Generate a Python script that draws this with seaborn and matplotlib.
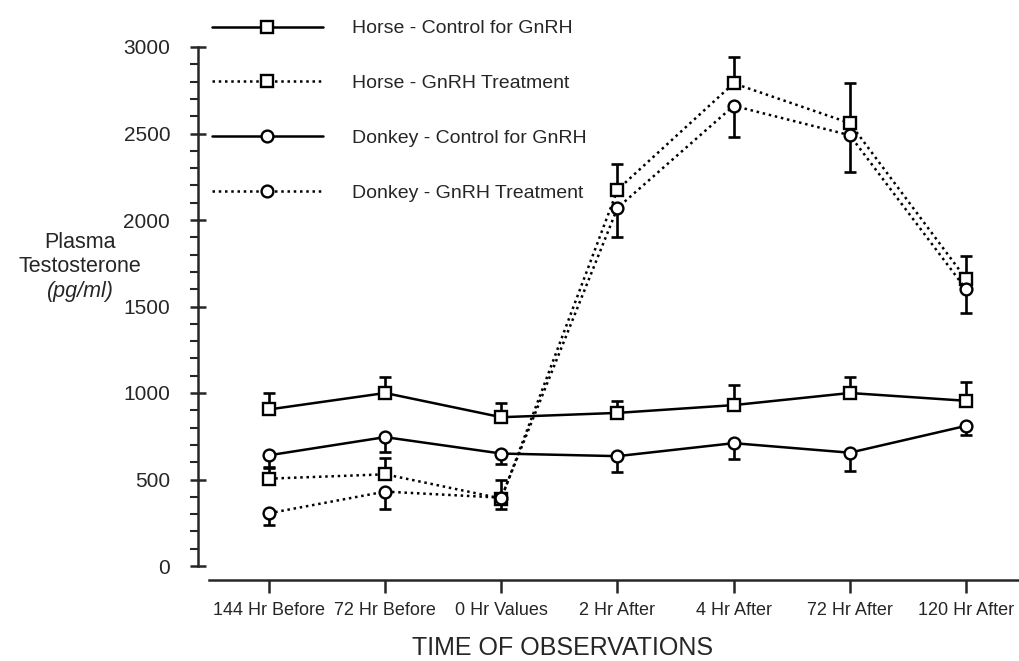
import matplotlib
matplotlib.use("Agg")  # headless
import matplotlib.pyplot as plt
import seaborn as sns
import numpy as np

times = ["144 Hr Before", "72 Hr Before", "0 Hr Values", "2 Hr After",
         "4 Hr After", "72 Hr After", "120 Hr After"]

horse_ctrl = [905, 1000, 860, 885, 930, 1000, 955]
horse_ctrl_err = [95, 95, 80, 70, 115, 95, 110]
horse_gnrh = [505, 530, 390, 2175, 2790, 2560, 1660]
horse_gnrh_err = [60, 95, 110, 150, 150, 230, 130]
donkey_ctrl = [640, 745, 650, 635, 710, 655, 810]
donkey_ctrl_err = [70, 85, 60, 90, 90, 105, 55]
donkey_gnrh = [305, 430, 395, 2070, 2660, 2490, 1600]
donkey_gnrh_err = [70, 100, 65, 170, 180, 210, 135]

sns.set_style("ticks")
plt.rcParams["font.family"] = ["Liberation Sans", "DejaVu Sans"]

W, H = 1019, 661
fig = plt.figure(figsize=(W / 100, H / 100), dpi=100)
ax = fig.add_axes([198 / W, 1 - 566 / H, (W - 198) / W, (566 - 47) / H])

x = np.arange(len(times))
dotted = (0, (1, 1.5))
series = [
    ("Horse - Control for GnRH", horse_ctrl, horse_ctrl_err, "-", "s", 1),
    ("Horse - GnRH Treatment", horse_gnrh, horse_gnrh_err, dotted, "s", 1),
    ("Donkey - Control for GnRH", donkey_ctrl, donkey_ctrl_err, "-", "o", -1),
    ("Donkey - GnRH Treatment", donkey_gnrh, donkey_gnrh_err, dotted, "o", -1),
]

for label, vals, err, ls, mk, direction in series:
    zeros = np.zeros(len(err))
    yerr = [zeros, err] if direction > 0 else [err, zeros]
    ax.errorbar(x, vals, yerr=yerr, fmt="none", ecolor="black",
                elinewidth=1.9, capsize=4, capthick=1.9, zorder=1)
    sns.lineplot(x=x, y=vals, ax=ax, color="black", lw=1.8, linestyle=ls,
                 marker=mk, markersize=8.5, markerfacecolor="white",
                 markeredgecolor="black", markeredgewidth=1.7,
                 label=label, zorder=3)

ax.set_xlim((198 - 269) / 116.17, 6 + (W - 966) / 116.17)
ax.set_ylim(0, 3000)
ax.set_xticks(x)
ax.set_xticklabels(times)
ax.set_yticks(np.arange(0, 3001, 500))
ax.set_yticks(np.arange(0, 3001, 100), minor=True)
ax.tick_params(axis="y", which="major", direction="inout", length=12, width=1.8,
               labelsize=15, pad=14)
ax.tick_params(axis="y", which="minor", direction="out", length=6, width=1.5)
ax.tick_params(axis="x", which="major", direction="out", length=9, width=1.8,
               labelsize=13, pad=7)
ax.set_xlabel("")
ax.set_ylabel("")

sns.despine(ax=ax)
ax.spines["left"].set_linewidth(1.8)
ax.spines["left"].set_bounds(0, 3000)
ax.spines["bottom"].set_linewidth(1.8)
ax.spines["bottom"].set_position(("outward", 10))
ax.spines["bottom"].set_bounds((209 - 269) / 116.17, 6 + (W - 966) / 116.17)

handles, labels = ax.get_legend_handles_labels()
ax.get_legend().remove()
fig.legend(handles, labels, loc="upper left", bbox_to_anchor=(202 / W, 1 - 10 / H),
           frameon=False, fontsize=14, handlelength=5.7, handletextpad=1.5,
           labelspacing=1.92, borderpad=0, numpoints=1)

fig.text(80 / W, 1 - 242 / H, "Plasma", ha="center", va="center", fontsize=15.5)
fig.text(80 / W, 1 - 267 / H, "Testosterone", ha="center", va="center", fontsize=15.5)
fig.text(80 / W, 1 - 291 / H, "(pg/ml)", ha="center", va="center", fontsize=15.5,
         style="italic")
fig.text(563 / W, 1 - 648 / H, "TIME OF OBSERVATIONS", ha="center", va="center",
         fontsize=18)

fig.savefig("out.png", dpi=100)
